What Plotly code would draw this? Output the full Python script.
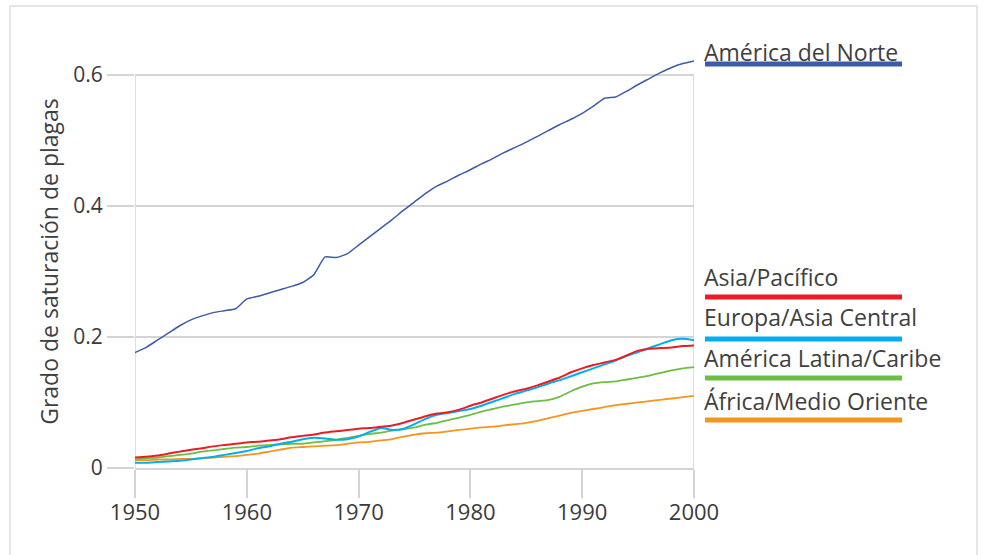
import plotly.graph_objects as go

years = list(range(1950, 2001))

america_norte = [0.176, 0.184, 0.195, 0.206, 0.217, 0.226, 0.232, 0.237, 0.240, 0.243,
                 0.258, 0.262, 0.267, 0.272, 0.277, 0.283, 0.295, 0.322, 0.321, 0.327,
                 0.340, 0.353, 0.366, 0.379, 0.393, 0.406, 0.419, 0.430, 0.438, 0.447,
                 0.455, 0.464, 0.472, 0.481, 0.489, 0.497, 0.506, 0.515, 0.524, 0.532,
                 0.541, 0.552, 0.564, 0.566, 0.575, 0.585, 0.594, 0.603, 0.611, 0.617, 0.621]

asia_pacifico = [0.016, 0.017, 0.019, 0.022, 0.025, 0.028, 0.030, 0.033, 0.035, 0.037,
                 0.039, 0.040, 0.042, 0.044, 0.047, 0.049, 0.051, 0.054, 0.056, 0.058,
                 0.060, 0.061, 0.063, 0.065, 0.069, 0.074, 0.079, 0.083, 0.085, 0.089,
                 0.095, 0.100, 0.106, 0.112, 0.117, 0.121, 0.126, 0.132, 0.138, 0.146,
                 0.152, 0.157, 0.161, 0.165, 0.172, 0.179, 0.182, 0.183, 0.184, 0.186, 0.187]

europa_asia = [0.008, 0.008, 0.009, 0.010, 0.011, 0.013, 0.015, 0.017, 0.020, 0.023,
               0.026, 0.030, 0.033, 0.037, 0.040, 0.044, 0.046, 0.045, 0.043, 0.044,
               0.048, 0.055, 0.061, 0.058, 0.060, 0.067, 0.075, 0.081, 0.084, 0.087,
               0.090, 0.095, 0.101, 0.107, 0.113, 0.118, 0.123, 0.129, 0.134, 0.140,
               0.146, 0.152, 0.158, 0.164, 0.171, 0.177, 0.183, 0.189, 0.195, 0.197, 0.195]

america_latina = [0.013, 0.015, 0.016, 0.018, 0.020, 0.022, 0.025, 0.027, 0.029, 0.031,
                  0.032, 0.034, 0.035, 0.036, 0.037, 0.037, 0.039, 0.041, 0.043, 0.046,
                  0.049, 0.052, 0.054, 0.057, 0.059, 0.062, 0.066, 0.069, 0.073, 0.077,
                  0.081, 0.086, 0.090, 0.094, 0.097, 0.100, 0.102, 0.104, 0.109, 0.117,
                  0.124, 0.129, 0.131, 0.132, 0.135, 0.138, 0.141, 0.145, 0.149, 0.152, 0.154]

africa_mo = [0.012, 0.012, 0.013, 0.013, 0.014, 0.014, 0.015, 0.016, 0.017, 0.018,
             0.020, 0.022, 0.025, 0.028, 0.031, 0.032, 0.033, 0.034, 0.035, 0.037,
             0.039, 0.040, 0.042, 0.044, 0.048, 0.051, 0.053, 0.054, 0.056, 0.058,
             0.060, 0.062, 0.063, 0.065, 0.067, 0.069, 0.072, 0.076, 0.080, 0.084,
             0.087, 0.090, 0.093, 0.096, 0.098, 0.100, 0.102, 0.104, 0.106, 0.108, 0.110]

names = ["América del Norte", "Asia/Pacífico", "Europa/Asia Central",
         "América Latina/Caribe", "África/Medio Oriente"]
series = [america_norte, asia_pacifico, europa_asia, america_latina, africa_mo]
colors = ["#3D5BA9", "#ED1C24", "#00AEEF", "#6DBE45", "#F7941D"]
widths = [1.5, 2, 2, 1.8, 1.8]

x_ticks = [1950, 1960, 1970, 1980, 1990, 2000]
y_ticks = [0, 0.2, 0.4, 0.6]
y_ticktext = ["0", "0.2", "0.4", "0.6"]
x_min, x_max = 1950, 2000
y_top = 0.6

FONT = "Open Sans"
GRID = "#d4d4d4"
W, H = 984, 555
L, R, T, B = 135, 290, 55, 87
pw = W - L - R
ph = H - T - B

def px_x(p):
    return (p - L) / pw

def px_y(p):
    return (H - B - p) / ph

fig = go.Figure()
for name, vals, c, w in reversed(list(zip(names, series, colors, widths))):
    fig.add_trace(go.Scatter(x=years, y=vals, name=name, mode="lines",
                             line=dict(color=c, width=w, shape="spline", smoothing=0.5),
                             showlegend=False))

# vertical frame lines at the ends of the x range, up to the top gridline
for xv in (x_min, x_max):
    fig.add_shape(type="line", xref="x", yref="y", x0=xv, x1=xv, y0=0, y1=y_top,
                  line=dict(color=GRID, width=1.5), layer="below")

# custom legend: label with coloured underline
label_y = [52, 277, 317, 358, 401]
bar_y = [64, 297, 339, 378, 420]
for name, c, ly, by in zip(names, colors, label_y, bar_y):
    fig.add_annotation(x=px_x(702), y=px_y(ly), xref="paper", yref="paper",
                       text=name, showarrow=False, xanchor="left", yanchor="middle",
                       font=dict(family=FONT, size=23, color="#3f3f3f"))
    fig.add_shape(type="rect", xref="paper", yref="paper",
                  x0=px_x(705), x1=px_x(902), y0=px_y(by + 2.5), y1=px_y(by - 2.5),
                  fillcolor=c, line=dict(width=0))

# outer frame
fig.add_shape(type="rect", xref="paper", yref="paper",
              x0=px_x(10), x1=px_x(977), y0=px_y(575), y1=px_y(6),
              line=dict(color="#e6e6e6", width=2), fillcolor="rgba(0,0,0,0)", layer="below")

fig.update_layout(
    width=W, height=H,
    margin=dict(l=L, r=R, t=T, b=B, autoexpand=False),
    paper_bgcolor="white", plot_bgcolor="white",
    font=dict(family=FONT, color="#333333"),
    xaxis=dict(range=[x_min, x_max], tickvals=x_ticks, showgrid=False, zeroline=False,
               showline=True, linecolor=GRID, linewidth=1.5, automargin=False,
               ticks="outside", ticklen=28, tickcolor=GRID, tickwidth=1.5,
               ticklabelstandoff=-4,
               tickfont=dict(family=FONT, size=22, color="#3a3a3a")),
    yaxis=dict(range=[0, 0.63], tickvals=y_ticks, ticktext=y_ticktext,
               showgrid=True, gridcolor=GRID, gridwidth=1.5, zeroline=False,
               showline=False, automargin=False,
               ticks="outside", ticklen=27, tickcolor=GRID, tickwidth=1.5,
               tickfont=dict(family=FONT, size=21, color="#3a3a3a"),
               title=dict(text="Grado de saturación de plagas", standoff=8,
                          font=dict(family=FONT, size=23, color="#3f3f3f"))),
)

fig.write_html("out.html", config={"displayModeBar": False},
               post_script="document.body.style.margin='0';document.body.style.overflow='hidden';")
